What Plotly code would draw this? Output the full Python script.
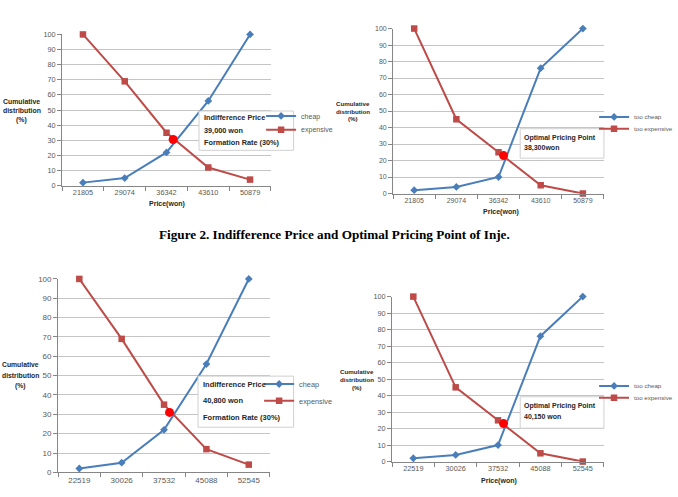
import plotly.graph_objects as go

# ---------------- data ----------------
prices_top = ["21805", "29074", "36342", "43610", "50879"]
prices_bottom = ["22519", "30026", "37532", "45088", "52545"]

cheap_top = [2, 5, 22, 56, 100]
expensive_top = [100, 69, 35, 12, 4]
too_cheap_top = [2, 4, 10, 76, 100]
too_expensive_top = [100, 45, 25, 5, 0]

cheap_bottom = [2, 5, 22, 56, 100]
expensive_bottom = [100, 69, 35, 12, 4]
too_cheap_bottom = [2, 4, 10, 76, 100]
too_expensive_bottom = [100, 45, 25, 5, 0]

# crossing points (category index position, %)
cross_ip_top = ([2.16], [30.5])
cross_opp_top = ([2.12], [23])
cross_ip_bottom = ([2.13], [31])
cross_opp_bottom = ([2.13], [23])

y_ticks = list(range(0, 101, 10))

W, H = 678, 497
BLUE = "#4A7EBB"
RED = "#BE4B48"
GRAY_TXT = "#595959"
DARK = "#262626"
FONT = "Liberation Sans"


def fx(px):
    return px / W


def fy(py):
    return 1 - py / H


fig = go.Figure()

panels = [
    # suffix, prices, s1, s2, names, cross, x-domain px, y0 px, y100 px, tick font, legends
    ("", prices_top, cheap_top, expensive_top, ("cheap", "expensive"), cross_ip_top,
     (63, 275), 185, 31, 7.3, ("legend", "legend2")),
    ("2", prices_top, too_cheap_top, too_expensive_top, ("too cheap", "too expensive"), cross_opp_top,
     (399, 613), 193, 25, 7.0, ("legend3", "legend4")),
    ("3", prices_bottom, cheap_bottom, expensive_bottom, ("cheap", "expensive"), cross_ip_bottom,
     (59, 274), 477, 280, 8.0, ("legend5", "legend6")),
    ("4", prices_bottom, too_cheap_bottom, too_expensive_bottom, ("too cheap", "too expensive"), cross_opp_bottom,
     (398, 613), 466, 298, 7.3, ("legend7", "legend8")),
]

for suf, prices, s1, s2, names, cross, xd, y0, y100, tf, legs in panels:
    idx = list(range(len(prices)))
    xa = "x" + suf
    ya = "y" + suf
    fig.add_trace(go.Scatter(
        x=idx, y=s1, name=names[0], mode="lines+markers", xaxis=xa, yaxis=ya,
        line=dict(color=BLUE, width=2), marker=dict(symbol="diamond", size=6, color=BLUE),
        cliponaxis=False, legend=legs[0]))
    fig.add_trace(go.Scatter(
        x=idx, y=s2, name=names[1], mode="lines+markers", xaxis=xa, yaxis=ya,
        line=dict(color=RED, width=2), marker=dict(symbol="square", size=6.5, color=RED),
        cliponaxis=False, legend=legs[1]))
    fig.add_trace(go.Scatter(
        x=cross[0], y=cross[1], mode="markers", xaxis=xa, yaxis=ya, showlegend=False,
        marker=dict(symbol="circle", size=9, color="#FF0000"), cliponaxis=False))

    fig.update_layout(**{
        "xaxis" + suf: dict(
            domain=[fx(xd[0]), fx(xd[1])], anchor=ya, range=[-0.5, len(prices) - 0.5],
            tickvals=idx, ticktext=prices, ticks="", showgrid=False, zeroline=False,
            showline=True, linecolor="#868686", linewidth=1,
            tickfont=dict(family=FONT, size=tf, color=GRAY_TXT),
            minor=dict(tickvals=[i - 0.5 for i in range(len(prices) + 1)], ticks="outside",
                       ticklen=4, tickcolor="#868686", showgrid=False),
            fixedrange=True),
        "yaxis" + suf: dict(
            domain=[fy(y0), fy(y100)], anchor=xa, range=[0, 100], tickvals=y_ticks,
            ticks="outside", ticklen=4, tickcolor="#868686", showgrid=True,
            gridcolor="#C4C4C4", gridwidth=1, zeroline=False, showline=True,
            linecolor="#868686", linewidth=1,
            tickfont=dict(family=FONT, size=tf, color=GRAY_TXT),
            fixedrange=True),
    })

annotations = []
shapes = []


def text_line(txt, px, py, size, anchor="left", color=DARK):
    annotations.append(dict(
        text="<b>" + txt + "</b>", x=fx(px), y=fy(py), xref="paper", yref="paper",
        xanchor=anchor, yanchor="middle", showarrow=False,
        font=dict(family=FONT, size=size, color=color)))


def ylabel(cx, ys, size):
    for txt, py in zip(["Cumulative", "distribution", "(%)"], ys):
        text_line(txt, cx, py, size, anchor="center")


def textbox(x0, x1, y0, y1, tx, lines, ys, size):
    shapes.append(dict(type="rect", xref="paper", yref="paper", x0=fx(x0), x1=fx(x1),
                       y0=fy(y1), y1=fy(y0), fillcolor="white",
                       line=dict(color="#D0D0D0", width=1), layer="above"))
    for txt, py in zip(lines, ys):
        text_line(txt, tx, py, size)


ylabel(22, (99, 108.5, 118), 6.9)
ylabel(358, (101, 109, 117), 6.2)
ylabel(21, (367, 378, 389), 6.8)
ylabel(362, (374, 382.5, 391), 6.2)

text_line("Price(won)", 169, 204, 7.0, anchor="center")
text_line("Price(won)", 509, 212, 7.0, anchor="center")
text_line("Price(won)", 506, 486, 7.0, anchor="center")

textbox(202, 298, 109, 149, 205, ["Indifference Price", "39,000 won", "Formation Rate (30%)"],
        (116, 129, 141), 7.3)
textbox(528, 613, 127, 157, 530, ["Optimal Pricing Point", "38,300won"], (136, 147), 7.0)
textbox(201, 298, 379, 431, 204, ["Indifference Price", "40,800 won", "Formation Rate (30%)"],
        (388, 404, 421), 7.5)
textbox(528, 613, 400, 432, 530, ["Optimal Pricing Point", "40,150 won"], (409, 421), 7.0)

annotations.append(dict(
    text="<b>Figure 2. Indifference Price and Optimal Pricing Point of Inje.</b>",
    x=fx(339.5), y=fy(235), xref="paper", yref="paper", xanchor="center", yanchor="middle",
    showarrow=False, font=dict(family="Liberation Serif", size=13.2, color="black")))


def legend_cfg(text_px, mid_py, size):
    return dict(x=fx(text_px - 40), y=fy(mid_py), xref="paper", yref="paper", xanchor="left",
                yanchor="middle", bgcolor="rgba(0,0,0,0)", borderwidth=0, itemwidth=30,
                font=dict(family=FONT, size=size, color=GRAY_TXT),
                itemclick=False, itemdoubleclick=False)


fig.update_layout(
    width=W, height=H, margin=dict(l=0, r=0, t=0, b=0),
    paper_bgcolor="white", plot_bgcolor="white", showlegend=True,
    annotations=annotations, shapes=shapes,
    legend=legend_cfg(305, 114, 7.0),
    legend2=legend_cfg(305, 128, 7.0),
    legend3=legend_cfg(643, 115, 6.2),
    legend4=legend_cfg(643, 127, 6.2),
    legend5=legend_cfg(303, 387, 7.3),
    legend6=legend_cfg(303, 404, 7.3),
    legend7=legend_cfg(643, 389, 6.2),
    legend8=legend_cfg(643, 401, 6.2),
)

fig.write_html("out.html")
